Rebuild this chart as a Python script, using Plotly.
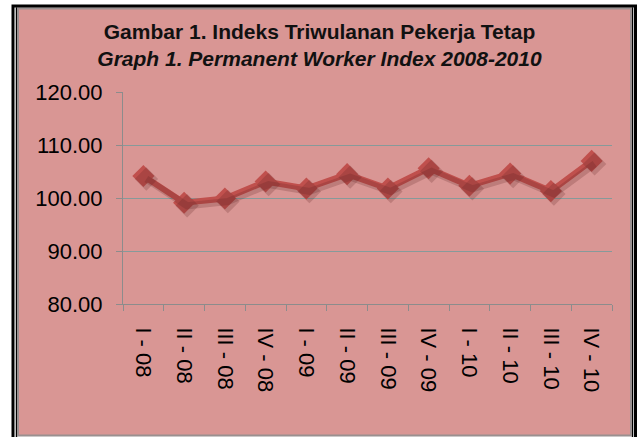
import plotly.graph_objects as go

categories = ["I - 08", "II - 08", "III - 08", "IV - 08",
              "I - 09", "II - 09", "III - 09", "IV - 09",
              "I - 10", "II - 10", "III - 10", "IV - 10"]
index_values = [104.15, 99.1, 99.9, 103.1, 101.8, 104.5,
                101.8, 105.6, 102.3, 104.6, 101.3, 107.0]
y_ticks = [80, 90, 100, 110, 120]

W, H = 639, 437
L, R, T, B = 123, 27, 92, 133
PW, PH = W - L - R, H - T - B
SH = 3  # shadow offset in px

def px(X):
    return (X - L) / PW

def py(Y):
    return (T + PH - Y) / PH

fig = go.Figure()

# shadow trace
fig.add_trace(go.Scatter(
    x=categories, y=index_values, xaxis="x2", yaxis="y2",
    mode="lines+markers",
    line=dict(color="rgba(90,30,30,0.22)", width=7),
    marker=dict(symbol="diamond", size=18, color="rgba(90,30,30,0.22)"),
    hoverinfo="skip", showlegend=False))

fig.add_trace(go.Scatter(
    x=categories, y=index_values,
    mode="lines+markers",
    line=dict(color="#C0504D", width=6),
    marker=dict(symbol="diamond", size=17, color="#C0504D"),
    showlegend=False))

dx = SH / PW
dy = SH / PH

fig.update_layout(
    width=W, height=H,
    margin=dict(l=L, r=R, t=T, b=B, pad=0),
    paper_bgcolor="white",
    plot_bgcolor="rgba(0,0,0,0)",
    font=dict(family="Liberation Sans, Arial, sans-serif", color="black"),
    title=dict(
        text="<b>Gambar 1. Indeks Triwulanan Pekerja Tetap</b><br><b><i>Graph 1. Permanent Worker Index 2008-2010</i></b>",
        x=0.5, xanchor="center", xref="container",
        y=1 - 39 / H, yanchor="top", yref="container",
        font=dict(size=21, color="#111111")),
    xaxis=dict(
        type="category", range=[-0.5, 11.5],
        domain=[0, 1],
        showgrid=False, showline=True, linecolor="#8c8c8c", linewidth=1,
        ticks="outside", tickson="boundaries", ticklen=6, tickcolor="#8c8c8c",
        tickangle=90, tickfont=dict(size=22, color="black"),
        ticklabelstandoff=18, fixedrange=True),
    yaxis=dict(
        range=[80, 120], tickvals=y_ticks, tickformat=".2f",
        domain=[0, 1],
        showgrid=True, gridcolor="#869a9a", gridwidth=1,
        showline=True, linecolor="#8c8c8c", linewidth=1,
        ticks="outside", ticklen=6, tickcolor="#8c8c8c",
        tickfont=dict(size=22, color="black"),
        ticklabelstandoff=9, zeroline=False, fixedrange=True),
    xaxis2=dict(type="category", range=[-0.5 - dx * 12, 11.5 - dx * 12],
                overlaying="x", anchor="y2", visible=False, fixedrange=True),
    yaxis2=dict(range=[80 + dy * 40, 120 + dy * 40], overlaying="y",
                anchor="x2", visible=False, fixedrange=True),
    shapes=[
        # outer black frame
        dict(type="rect", xref="paper", yref="paper", layer="below",
             x0=px(13), x1=px(635.5), y0=py(6), y1=py(445),
             line=dict(color="black", width=3), fillcolor="white"),
        # inner black line (double frame)
        dict(type="rect", xref="paper", yref="paper", layer="below",
             x0=px(16.5), x1=px(632.5), y0=py(8), y1=py(445),
             line=dict(color="black", width=1.5), fillcolor="rgba(0,0,0,0)"),
        # pink chart area with gray rim
        dict(type="rect", xref="paper", yref="paper", layer="below",
             x0=px(18), x1=px(631), y0=py(8.5), y1=py(435.5),
             line=dict(color="#9a9090", width=2), fillcolor="#D99694"),
    ],
)

fig.write_html(
    "out.html",
    config={"displayModeBar": False},
    post_script="document.body.style.margin='0';document.body.style.overflow='hidden';")
